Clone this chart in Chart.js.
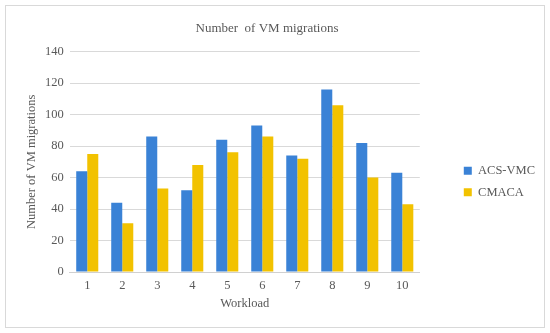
<!DOCTYPE html>
<html>
<head>
<meta charset="utf-8">
<script src="https://cdn.jsdelivr.net/npm/chart.js@4.4.0/dist/chart.umd.min.js"></script>
<style>
  body { margin: 0; background: #fff; }
  #wrap { width: 550px; height: 333px; position: relative; }
</style>
</head>
<body>
<div id="wrap"><canvas id="chartVM" width="550" height="333"></canvas></div>
<script>
var workloads = ["1", "2", "3", "4", "5", "6", "7", "8", "9", "10"];
var acsVmc = [64, 44, 86, 52, 84, 93, 74, 116, 82, 63];
var cmaca = [75, 31, 53, 68, 76, 86, 72, 106, 60, 43];
var yTicks = [0, 20, 40, 60, 80, 100, 120, 140];

var serif = "'Liberation Serif', 'Times New Roman', serif";
var grey = '#595959';

// light frame round the whole chart, and white background
var border = {
    id: 'border',
    beforeDraw: function (c) {
        var ctx = c.ctx;
        ctx.save();
        ctx.fillStyle = '#fff';
        ctx.fillRect(0, 0, c.width, c.height);
        ctx.strokeStyle = '#d9d9d9';
        ctx.lineWidth = 1;
        ctx.strokeRect(5.5, 5.5, 539, 322);
        ctx.restore();
    }
};

// push the legend a bit further right and down, like the original
var legendShift = {
    id: 'legendShift',
    afterLayout: function (c) {
        var l = c.legend;
        l.left += 35; l.right += 35;
        l.top += 22; l.bottom += 22;
    }
};

var vm = document.getElementById('chartVM').getContext('2d');
var chart = new Chart(vm, {
    type: 'bar',
    data: {
        labels: workloads,
        datasets: [{
            label: "ACS-VMC",
            backgroundColor: '#3a82d6',
            data: acsVmc
        }, {
            label: "CMACA",
            backgroundColor: '#f2c200',
            data: cmaca
        }]
    },
    options: {
        responsive: false,
        animation: false,
        layout: { padding: { left: 24, right: 40, top: 8, bottom: 22 } },
        datasets: { bar: { barPercentage: 1, categoryPercentage: 0.63 } },
        plugins: {
            title: {
                display: true,
                text: 'Number  of VM migrations',
                color: grey,
                font: { family: serif, size: 13, weight: 'normal' },
                padding: { top: 13, bottom: 15 }
            },
            legend: {
                position: 'right',
                labels: {
                    color: grey,
                    boxWidth: 8,
                    boxHeight: 8,
                    padding: 9,
                    font: { family: serif, size: 12.5 }
                }
            },
            tooltip: { enabled: false }
        },
        scales: {
            x: {
                grid: { display: false, drawTicks: false },
                border: { color: '#d0d0d0' },
                ticks: { color: grey, padding: 6, font: { family: serif, size: 12.5 } },
                title: {
                    display: true, text: 'Workload', color: grey,
                    font: { family: serif, size: 12.5 }, padding: { top: -3, bottom: 0 }
                }
            },
            y: {
                min: 0,
                max: 140,
                afterBuildTicks: function (s) { s.ticks = yTicks.map(function (v) { return { value: v }; }); },
                grid: { color: '#d9d9d9', drawTicks: false },
                border: { display: false },
                ticks: { color: grey, padding: 6, font: { family: serif, size: 12.5 } },
                title: {
                    display: true, text: 'Number of VM migrations', color: grey,
                    font: { family: serif, size: 12.5 }, padding: 0
                }
            }
        }
    },
    plugins: [border, legendShift]
});
</script>
</body>
</html>
